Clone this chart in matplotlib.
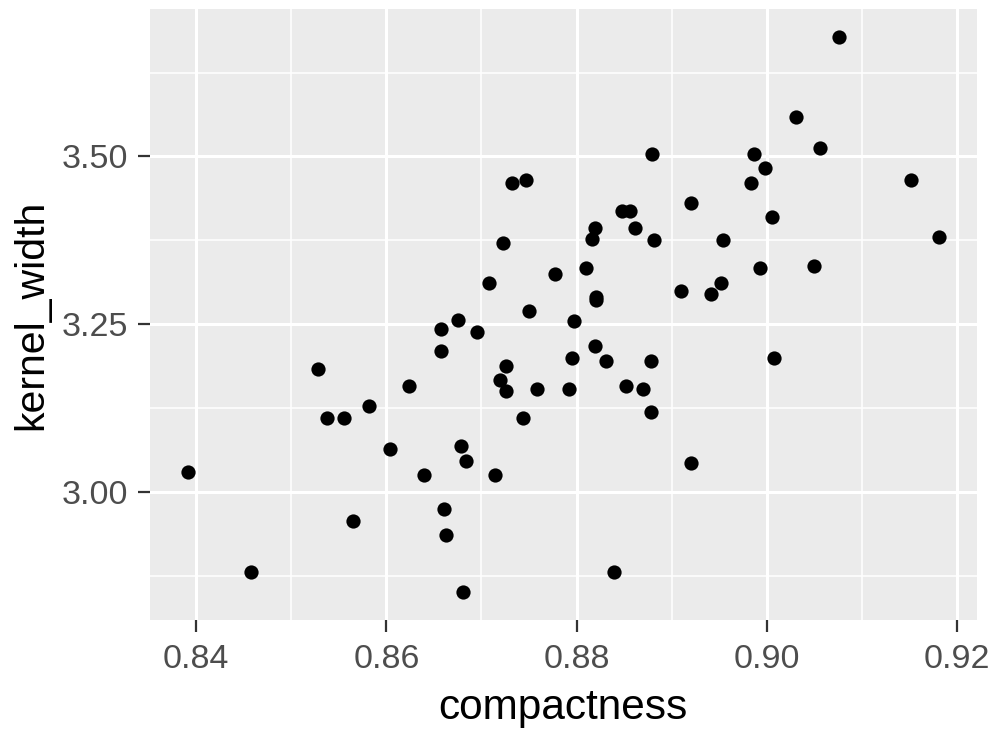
import matplotlib
matplotlib.use("Agg")
import matplotlib.pyplot as plt
from matplotlib.ticker import MultipleLocator

# compactness vs kernel_width
compactness = [
    0.87318, 0.87470, 0.87227, 0.87770, 0.87083, 0.87500, 0.86754,
    0.90765, 0.90313, 0.88789, 0.89869, 0.90555, 0.89987, 0.89833,
    0.91514, 0.89206, 0.88477, 0.88565, 0.88190, 0.88159, 0.88611,
    0.88817, 0.89536, 0.90051, 0.91813, 0.88103, 0.89928, 0.90499,
    0.89094, 0.89413, 0.89518, 0.88200, 0.88210,
    0.87977, 0.88190, 0.87948, 0.88313, 0.88786, 0.87924, 0.88523,
    0.88702, 0.88786, 0.90079, 0.89206, 0.88397,
    0.86572, 0.86957, 0.86572, 0.85286, 0.86243, 0.87258, 0.87192,
    0.87262, 0.87584, 0.85822, 0.85377, 0.85560, 0.87441, 0.86036,
    0.86782, 0.86842, 0.86396, 0.87147, 0.83910, 0.86603, 0.85647,
    0.86632, 0.84572, 0.86810,
]
kernel_width = [
    3.4601, 3.4651, 3.3714, 3.3245, 3.3116, 3.2691, 3.2557,
    3.6784, 3.5592, 3.5039, 3.5039, 3.5120, 3.4821, 3.4611,
    3.4650, 3.4312, 3.4187, 3.4187, 3.3928, 3.3768, 3.3928,
    3.3753, 3.3753, 3.4092, 3.3798, 3.3330, 3.3330, 3.3364,
    3.2990, 3.2946, 3.3116, 3.2905, 3.2855,
    3.2552, 3.2168, 3.1999, 3.1954, 3.1954, 3.1536, 3.1576,
    3.1536, 3.1196, 3.1999, 3.0425, 2.8804,
    3.2422, 3.2388, 3.2093, 3.1830, 3.1576, 3.1875, 3.1670,
    3.1510, 3.1536, 3.1277, 3.1102, 3.1102, 3.1106, 3.0638,
    3.0688, 3.0464, 3.0254, 3.0254, 3.0299, 2.9741, 2.9567,
    2.9353, 2.8804, 2.8505,
]
x_ticks = [0.84, 0.86, 0.88, 0.90, 0.92]
x_labels = ["0.84", "0.86", "0.88", "0.90", "0.92"]
y_ticks = [3.00, 3.25, 3.50]
y_labels = ["3.00", "3.25", "3.50"]

plt.rcParams.update({
    "font.family": ["Liberation Sans", "DejaVu Sans"],
})

fig = plt.figure(figsize=(9.92, 7.47), dpi=100)
ax = fig.add_axes([0.1512, 0.170, 0.8334, 0.818])
ax.set_facecolor("#EBEBEB")

ax.scatter(compactness, kernel_width, s=105, color="black", linewidths=0, zorder=3)

# ggplot-style 5% expansion
xmin, xmax = min(compactness), max(compactness)
ymin, ymax = min(kernel_width), max(kernel_width)
xpad = (xmax - xmin) * 0.05
ypad = (ymax - ymin) * 0.05
ax.set_xlim(xmin - xpad, xmax + xpad)
ax.set_ylim(ymin - ypad, ymax + ypad)

ax.xaxis.set_minor_locator(MultipleLocator(0.01))
ax.yaxis.set_minor_locator(MultipleLocator(0.125))
ax.set_xticks(x_ticks)
ax.set_xticklabels(x_labels)
ax.set_yticks(y_ticks)
ax.set_yticklabels(y_labels)

ax.grid(which="major", color="white", linewidth=2.2, zorder=0)
ax.grid(which="minor", color="white", linewidth=1.1, zorder=0)
ax.set_axisbelow(True)
for sp in ax.spines.values():
    sp.set_visible(False)

ax.tick_params(which="major", length=8.6, width=1.6, color="#333333",
               labelcolor="#4D4D4D", labelsize=24.5)
ax.tick_params(axis="y", pad=7)
ax.tick_params(axis="x", pad=9)
ax.tick_params(which="minor", length=0)

ax.set_xlabel("compactness", fontsize=30.5, color="black", labelpad=9)
ax.set_ylabel("kernel_width", fontsize=29.5, color="black", labelpad=8)

fig.savefig("out.png", dpi=100, facecolor="white")
